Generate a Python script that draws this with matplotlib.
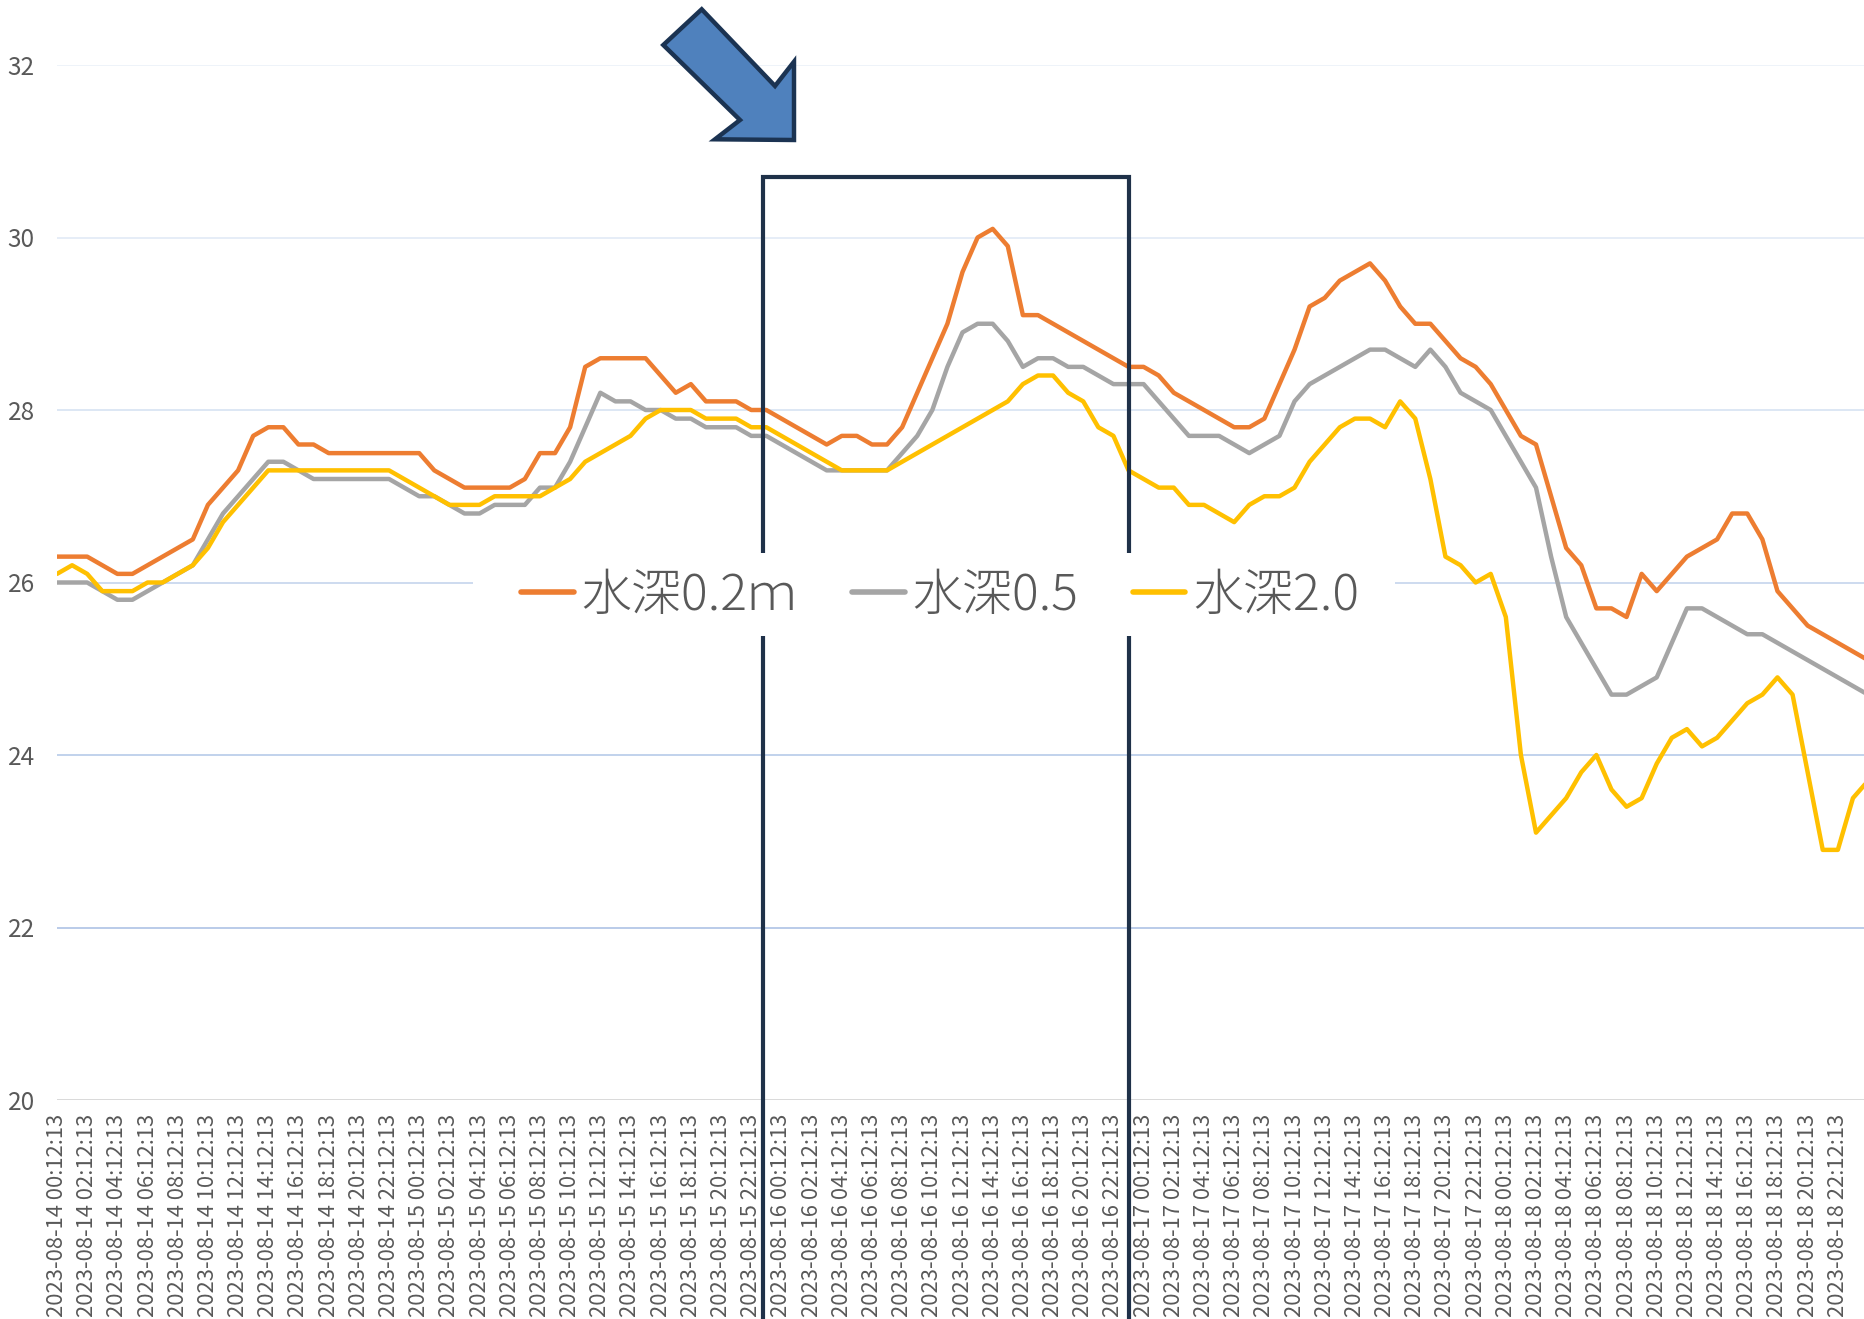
import numpy as np
import matplotlib
matplotlib.use("Agg")
import matplotlib.pyplot as plt
from matplotlib.patches import Polygon, Rectangle

plt.rcParams['font.family'] = ['Noto Sans CJK JP', 'DejaVu Sans']

# categories: hourly samples starting 2023-08-14 00:12:13
days = ["2023-08-14", "2023-08-15", "2023-08-16", "2023-08-17", "2023-08-18"]
label_hours = ["00", "02", "04", "06", "08", "10", "12", "14", "16", "18", "20", "22"]
tick_labels = [f"{d} {h}:12:13" for d in days for h in label_hours]

series_names = ["水深0.2ｍ", "水深0.5", "水深2.0"]
series_colors = ["#ED7D31", "#A5A5A5", "#FFC000"]

temp_02m = [
    26.3, 26.3, 26.3, 26.2, 26.1, 26.1, 26.2, 26.3, 26.4, 26.5,
    26.9, 27.1, 27.3, 27.7, 27.8, 27.8, 27.6, 27.6, 27.5, 27.5,
    27.5, 27.5, 27.5, 27.5, 27.5, 27.3, 27.2, 27.1, 27.1, 27.1,
    27.1, 27.2, 27.5, 27.5, 27.8, 28.5, 28.6, 28.6, 28.6, 28.6,
    28.4, 28.2, 28.3, 28.1, 28.1, 28.1, 28.0, 28.0, 27.9, 27.8,
    27.7, 27.6, 27.7, 27.7, 27.6, 27.6, 27.8, 28.2, 28.6, 29.0,
    29.6, 30.0, 30.1, 29.9, 29.1, 29.1, 29.0, 28.9, 28.8, 28.7,
    28.6, 28.5, 28.5, 28.4, 28.2, 28.1, 28.0, 27.9, 27.8, 27.8,
    27.9, 28.3, 28.7, 29.2, 29.3, 29.5, 29.6, 29.7, 29.5, 29.2,
    29.0, 29.0, 28.8, 28.6, 28.5, 28.3, 28.0, 27.7, 27.6, 27.0,
    26.4, 26.2, 25.7, 25.7, 25.6, 26.1, 25.9, 26.1, 26.3, 26.4,
    26.5, 26.8, 26.8, 26.5, 25.9, 25.7, 25.5, 25.4, 25.3, 25.2,
    25.1,
]
temp_05m = [
    26.0, 26.0, 26.0, 25.9, 25.8, 25.8, 25.9, 26.0, 26.1, 26.2,
    26.5, 26.8, 27.0, 27.2, 27.4, 27.4, 27.3, 27.2, 27.2, 27.2,
    27.2, 27.2, 27.2, 27.1, 27.0, 27.0, 26.9, 26.8, 26.8, 26.9,
    26.9, 26.9, 27.1, 27.1, 27.4, 27.8, 28.2, 28.1, 28.1, 28.0,
    28.0, 27.9, 27.9, 27.8, 27.8, 27.8, 27.7, 27.7, 27.6, 27.5,
    27.4, 27.3, 27.3, 27.3, 27.3, 27.3, 27.5, 27.7, 28.0, 28.5,
    28.9, 29.0, 29.0, 28.8, 28.5, 28.6, 28.6, 28.5, 28.5, 28.4,
    28.3, 28.3, 28.3, 28.1, 27.9, 27.7, 27.7, 27.7, 27.6, 27.5,
    27.6, 27.7, 28.1, 28.3, 28.4, 28.5, 28.6, 28.7, 28.7, 28.6,
    28.5, 28.7, 28.5, 28.2, 28.1, 28.0, 27.7, 27.4, 27.1, 26.3,
    25.6, 25.3, 25.0, 24.7, 24.7, 24.8, 24.9, 25.3, 25.7, 25.7,
    25.6, 25.5, 25.4, 25.4, 25.3, 25.2, 25.1, 25.0, 24.9, 24.8,
    24.7,
]
temp_20m = [
    26.1, 26.2, 26.1, 25.9, 25.9, 25.9, 26.0, 26.0, 26.1, 26.2,
    26.4, 26.7, 26.9, 27.1, 27.3, 27.3, 27.3, 27.3, 27.3, 27.3,
    27.3, 27.3, 27.3, 27.2, 27.1, 27.0, 26.9, 26.9, 26.9, 27.0,
    27.0, 27.0, 27.0, 27.1, 27.2, 27.4, 27.5, 27.6, 27.7, 27.9,
    28.0, 28.0, 28.0, 27.9, 27.9, 27.9, 27.8, 27.8, 27.7, 27.6,
    27.5, 27.4, 27.3, 27.3, 27.3, 27.3, 27.4, 27.5, 27.6, 27.7,
    27.8, 27.9, 28.0, 28.1, 28.3, 28.4, 28.4, 28.2, 28.1, 27.8,
    27.7, 27.3, 27.2, 27.1, 27.1, 26.9, 26.9, 26.8, 26.7, 26.9,
    27.0, 27.0, 27.1, 27.4, 27.6, 27.8, 27.9, 27.9, 27.8, 28.1,
    27.9, 27.2, 26.3, 26.2, 26.0, 26.1, 25.6, 24.0, 23.1, 23.3,
    23.5, 23.8, 24.0, 23.6, 23.4, 23.5, 23.9, 24.2, 24.3, 24.1,
    24.2, 24.4, 24.6, 24.7, 24.9, 24.7, 23.8, 22.9, 22.9, 23.5,
    23.7,
]

y_ticks = [20, 22, 24, 26, 28, 30, 32]
grid_colors = ["#D9D9D9", "#B4C7E7", "#BCCFEA", "#C9D8EE", "#DAE5F3", "#E4ECF7", "#EDF2F9"]

W, H = 1865, 1319
fig = plt.figure(figsize=(W / 100, H / 100), dpi=100)
ax = fig.add_axes([57 / W, (H - 1100) / H, 1808 / W, 1035 / H])

hours = np.arange(len(temp_02m))
for vals, name, col in zip([temp_02m, temp_05m, temp_20m], series_names, series_colors):
    ax.plot(hours, vals, color=col, lw=3.2, label=name, zorder=2,
            solid_joinstyle="round", solid_capstyle="round")

for lev, gc in zip(y_ticks, grid_colors):
    ax.axhline(lev, color=gc, lw=1.4 if lev == 20 else 1.3, zorder=1)

ax.set_xlim(0, 119.8)
ax.set_ylim(20, 32)
ax.set_yticks(y_ticks)
ax.set_yticklabels([str(v) for v in y_ticks])
ax.set_xticks(np.arange(0, 120, 2))
ax.set_xticklabels(tick_labels, rotation=90)
ax.tick_params(axis="x", length=0, pad=10, labelsize=15.8, labelcolor="#595959")
ax.tick_params(axis="y", length=0, pad=16, labelsize=17.5, labelcolor="#595959")
for s in ax.spines.values():
    s.set_visible(False)

# highlight box around 8/16
ax.plot([46.8, 46.8, 71.0, 71.0], [17.0, 30.7, 30.7, 17.0], color="#1F3149",
        lw=3, clip_on=False, zorder=4, solid_joinstyle="miter")

# white backing behind the legend
fig.add_artist(Rectangle((473 / W, 1 - 636 / H), (1395 - 473) / W, 83 / H,
                         transform=fig.transFigure, facecolor="white",
                         edgecolor="none", zorder=4.5))

handles, labels = ax.get_legend_handles_labels()
leg = fig.legend(handles, labels, loc="center", bbox_to_anchor=(940 / W, 1 - 596 / H),
                 bbox_transform=fig.transFigure, ncol=3, frameon=False,
                 prop={"size": 36, "weight": "light"}, labelcolor="#595959",
                 handlelength=1.05, handletextpad=0.15, columnspacing=1.1, borderpad=0)
leg.set_zorder(5)
for ln in leg.get_lines():
    ln.set_linewidth(4)
    ln.set_solid_capstyle("round")

# block arrow pointing at the box
arrow_px = [(701.7, 9.3), (775, 86), (794, 61.7), (794, 140),
            (715, 139.3), (740, 120), (663.3, 45)]
arrow = Polygon([(px / W, 1 - py / H) for px, py in arrow_px], closed=True,
                transform=fig.transFigure, facecolor="#4F81BD",
                edgecolor="#1B3352", lw=3.2, joinstyle="miter", zorder=6)
fig.add_artist(arrow)

fig.savefig("out.png", dpi=100)
